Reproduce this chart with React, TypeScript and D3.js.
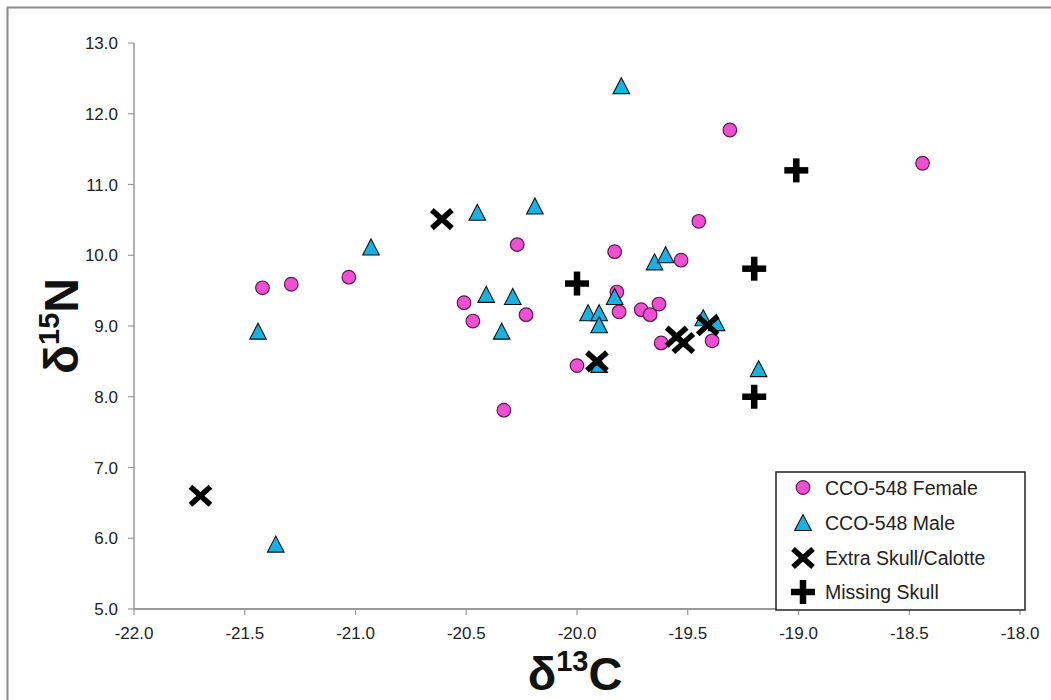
import React from "react";
import * as d3 from "d3";

// ---- Data ----
const femaleX = [-21.42, -21.29, -21.03, -20.51, -20.47, -20.27, -20.23, -20.33, -20.0, -19.83, -19.82, -19.81, -19.71, -19.67, -19.63, -19.62, -19.53, -19.45, -19.31, -19.39, -18.44];
const femaleY = [9.54, 9.59, 9.69, 9.33, 9.07, 10.15, 9.16, 7.81, 8.44, 10.05, 9.48, 9.2, 9.23, 9.16, 9.31, 8.76, 9.93, 10.48, 11.77, 8.79, 11.3];

const maleX = [-21.44, -20.93, -21.36, -20.45, -20.41, -20.29, -20.34, -20.19, -19.8, -19.95, -19.9, -19.9, -19.83, -19.65, -19.6, -19.9, -19.43, -19.37, -19.18];
const maleY = [8.92, 10.11, 5.91, 10.6, 9.44, 9.41, 8.92, 10.69, 12.39, 9.18, 9.18, 9.01, 9.41, 9.9, 10.0, 8.45, 9.11, 9.04, 8.39];

const extraX = [-21.7, -20.61, -19.91, -19.55, -19.52, -19.41];
const extraY = [6.6, 10.51, 8.5, 8.85, 8.76, 9.01];

const missingX = [-20.0, -19.01, -19.2, -19.2];
const missingY = [9.6, 11.2, 9.81, 8.0];

const xTicks = [-22, -21.5, -21, -20.5, -20, -19.5, -19, -18.5, -18];
const yTicks = [5, 6, 7, 8, 9, 10, 11, 12, 13];

const legendLabels = ["CCO-548 Female", "CCO-548 Male", "Extra Skull/Calotte", "Missing Skull"];

const FONT = "'Liberation Sans', Arial, sans-serif";
const PINK = "#f04fd2";
const PINK_STROKE = "#5a1a55";
const CYAN = "#19b0e3";

const Circle = ({ cx, cy }: { cx: number; cy: number }) => (
  <circle cx={cx} cy={cy} r={6.8} fill={PINK} stroke={PINK_STROKE} strokeWidth={1.2} />
);
const Tri = ({ cx, cy }: { cx: number; cy: number }) => (
  <path d={`M${cx},${cy - 8.5} L${cx + 8.3},${cy + 7.5} L${cx - 8.3},${cy + 7.5} Z`} fill={CYAN} stroke="#111" strokeWidth={1.1} strokeLinejoin="miter" />
);
const XMark = ({ cx, cy }: { cx: number; cy: number }) => (
  <g stroke="#000" strokeWidth={5.5}>
    <line x1={cx - 10} y1={cy - 9} x2={cx + 10} y2={cy + 9} />
    <line x1={cx - 10} y1={cy + 9} x2={cx + 10} y2={cy - 9} />
  </g>
);
const Plus = ({ cx, cy }: { cx: number; cy: number }) => (
  <g stroke="#000" strokeWidth={6.5}>
    <line x1={cx - 12} y1={cy} x2={cx + 12} y2={cy} />
    <line x1={cx} y1={cy - 12} x2={cx} y2={cy + 12} />
  </g>
);

export default function App() {
  const x = d3.scaleLinear().domain([-22, -18]).range([134, 1020]);
  const y = d3.scaleLinear().domain([5, 13]).range([609, 43]);

  const legendTop = 472;
  const rowYs = [487.5, 523, 558, 592];

  return (
    <svg
      width={1051}
      height={700}
      style={{ position: "absolute", left: 0, top: 0, background: "#fff" }}
      fontFamily={FONT}
    >
      <rect x={0} y={0} width={1051} height={700} fill="#fff" />
      {/* outer chart border */}
      <rect x={7.5} y={7.5} width={1100} height={800} fill="none" stroke="#8a8a8a" strokeWidth={2} />

      {/* axes */}
      <line x1={x(-22)} y1={y(5)} x2={x(-18)} y2={y(5)} stroke="#999" strokeWidth={2} />
      <line x1={x(-22)} y1={y(5)} x2={x(-22)} y2={y(13)} stroke="#999" strokeWidth={1.5} />
      {xTicks.map((t) => (
        <g key={"xt" + t}>
          <line x1={x(t)} x2={x(t)} y1={y(5)} y2={y(5) + 6} stroke="#999" strokeWidth={1.2} />
          <text x={x(t)} y={639} textAnchor="middle" fontSize={17} fill="#222">
            {t.toFixed(1)}
          </text>
        </g>
      ))}
      {yTicks.map((t) => (
        <g key={"yt" + t}>
          <line x1={x(-22) - 6} x2={x(-22)} y1={y(t)} y2={y(t)} stroke="#999" strokeWidth={1.2} />
          <text x={118} y={y(t) + 6} textAnchor="end" fontSize={17} fill="#222">
            {t.toFixed(1)}
          </text>
        </g>
      ))}

      {/* axis titles */}
      <text x={575} y={690} textAnchor="middle" fontSize={47} fontWeight="bold" fill="#111">
        δ<tspan fontSize={29} dy={-19}>13</tspan>
        <tspan dy={19}>C</tspan>
      </text>
      <text
        transform={`translate(78,${(y(5) + y(13)) / 2}) rotate(-90)`}
        textAnchor="middle"
        fontSize={48}
        fontWeight="bold"
        fill="#111"
      >
        δ<tspan fontSize={29} dy={-19}>15</tspan>
        <tspan dy={19}>N</tspan>
      </text>

      {/* data */}
      {femaleX.map((v, i) => (
        <Circle key={"f" + i} cx={x(v)} cy={y(femaleY[i])} />
      ))}
      {maleX.map((v, i) => (
        <Tri key={"m" + i} cx={x(v)} cy={y(maleY[i])} />
      ))}
      {extraX.map((v, i) => (
        <XMark key={"e" + i} cx={x(v)} cy={y(extraY[i])} />
      ))}
      {missingX.map((v, i) => (
        <Plus key={"p" + i} cx={x(v)} cy={y(missingY[i])} />
      ))}

      {/* legend */}
      <rect x={776} y={legendTop} width={249} height={138} fill="#fff" stroke="#222" strokeWidth={1.5} />
      <Circle cx={803} cy={rowYs[0]} />
      <Tri cx={803} cy={rowYs[1]} />
      <XMark cx={803} cy={rowYs[2]} />
      <Plus cx={803} cy={rowYs[3]} />
      {legendLabels.map((l, i) => (
        <text key={l} x={825} y={rowYs[i] + 7} fontSize={19.5} fill="#222">
          {l}
        </text>
      ))}
    </svg>
  );
}
